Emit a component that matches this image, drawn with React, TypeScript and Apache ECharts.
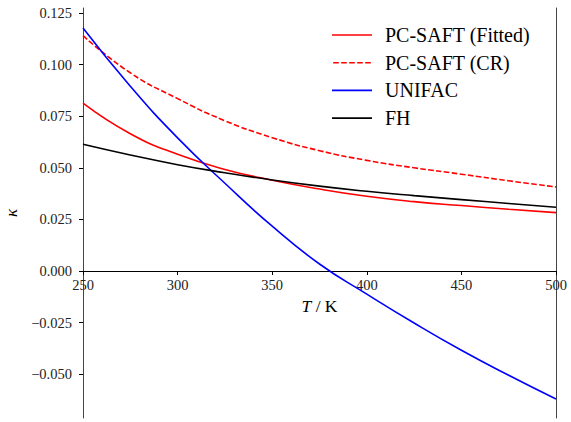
import React, { useEffect, useRef } from "react";
import * as echarts from "echarts";

const temps = [250, 275, 300, 325, 350, 375, 400, 425, 450, 475, 500];
const pcsaftFitted = [0.0813, 0.0665, 0.0565, 0.0492, 0.044, 0.0397, 0.0362, 0.0336, 0.0317, 0.0299, 0.0283];
const pcsaftCR = [0.114, 0.096, 0.0835, 0.0728, 0.0646, 0.0583, 0.0536, 0.05, 0.0469, 0.0437, 0.0407];
const unifac = [0.1177, 0.0895, 0.0645, 0.0425, 0.0217, 0.0034, -0.0112, -0.0252, -0.0384, -0.0505, -0.062];
const fh = [0.0614, 0.0562, 0.0515, 0.0476, 0.0441, 0.0411, 0.0386, 0.0365, 0.0346, 0.0327, 0.0309];

const yTicks = [-0.05, -0.025, 0, 0.025, 0.05, 0.075, 0.1, 0.125];
const seriesNames = ["PC-SAFT (Fitted)", "PC-SAFT (CR)", "UNIFAC", "FH"];

const FONT = "Liberation Serif";
const SOLID_ICON = "path://M0,0H40V1.6H0Z";
const DASH_ICON = "path://M0,0H5.6V1.6H0Z M8,0H13.6V1.6H8Z M16,0H21.6V1.6H16Z M24,0H29.6V1.6H24Z M32,0H37.6V1.6H32Z";

export default function App() {
  const ref = useRef<HTMLDivElement>(null);
  useEffect(() => {
    document.body.style.margin = "0";
    if (!ref.current) return;
    const chart = echarts.init(ref.current, undefined, { renderer: "svg" });
    const pairs = (ys: number[]) => temps.map((t, i) => [t, ys[i]]);
    const mk = (name: string, ys: number[], color: string, dashed = false) => ({
      name,
      type: "line",
      data: pairs(ys),
      smooth: true,
      symbol: "none",
      showSymbol: false,
      xAxisIndex: 0,
      yAxisIndex: 0,
      lineStyle: { color, width: 1.6, type: dashed ? [5.6, 2.4] : "solid" },
      itemStyle: { color },
    });
    chart.setOption({
      animation: false,
      grid: [
        { left: 83, right: 15, top: 8, bottom: 4, containLabel: false, outerBoundsMode: "none" },
        { left: 83, right: 15, top: 8, height: 263, containLabel: false, outerBoundsMode: "none" },
      ],
      legend: {
        orient: "vertical",
        left: 327,
        top: 20,
        padding: 5,
        itemWidth: 40,
        itemHeight: 1.6,
        itemGap: 7.7,
        data: [
          { name: seriesNames[0], icon: SOLID_ICON },
          { name: seriesNames[1], icon: DASH_ICON },
          { name: seriesNames[2], icon: SOLID_ICON },
          { name: seriesNames[3], icon: SOLID_ICON },
        ],
        textStyle: { fontFamily: FONT, fontSize: 20, color: "#000", lineHeight: 20, padding: [0, 0, 0, 8] },
      },
      xAxis: [
        {
          gridIndex: 0,
          type: "value",
          min: 250,
          max: 500,
          show: false,
        },
        {
          gridIndex: 1,
          type: "value",
          min: 250,
          max: 500,
          interval: 50,
          position: "bottom",
          name: "{i|T} / K",
          nameLocation: "middle",
          nameGap: 25,
          nameTextStyle: {
            fontFamily: FONT,
            fontSize: 17.5,
            color: "#000",
            rich: { i: { fontFamily: FONT, fontSize: 17.5, fontStyle: "italic", color: "#000" } },
          },
          axisLine: { show: true, onZero: false, lineStyle: { color: "#000", width: 1 } },
          axisTick: { show: true, length: 4, lineStyle: { color: "#000", width: 1 } },
          axisLabel: { fontFamily: FONT, fontSize: 14.5, color: "#222", margin: 6 },
          splitLine: { show: false },
        },
      ],
      yAxis: [
        {
          gridIndex: 0,
          type: "value",
          min: -0.0712,
          max: 0.1274,
          position: "left",
          name: "κ",
          nameLocation: "middle",
          nameGap: 63,
          nameRotate: 90,
          nameTextStyle: { fontFamily: FONT, fontSize: 17, color: "#000", fontStyle: "italic" },
          axisLine: { show: true, onZero: false, lineStyle: { color: "#444", width: 1 } },
          axisTick: { show: true, length: 4, customValues: yTicks, lineStyle: { color: "#000", width: 1 } },
          axisLabel: {
            customValues: yTicks,
            fontFamily: FONT,
            fontSize: 14.5,
            color: "#222",
            margin: 11,
            formatter: (v: number) => (v < 0 ? "\u2212" : "") + Math.abs(v).toFixed(3),
          },
          splitLine: { show: false },
        },
        {
          gridIndex: 0,
          type: "value",
          min: -0.0712,
          max: 0.1274,
          position: "right",
          axisLine: { show: true, onZero: false, lineStyle: { color: "#444", width: 1 } },
          axisTick: { show: false },
          axisLabel: { show: false },
          splitLine: { show: false },
        },
        {
          gridIndex: 1,
          type: "value",
          min: 0,
          max: 1,
          show: false,
        },
      ],
      series: [
        mk(seriesNames[0], pcsaftFitted, "#ff0000"),
        mk(seriesNames[1], pcsaftCR, "#ff0000", true),
        mk(seriesNames[2], unifac, "#0000ff"),
        mk(seriesNames[3], fh, "#000000"),
      ],
    });
    return () => chart.dispose();
  }, []);
  return <div ref={ref} style={{ width: 571, height: 422 }} />;
}
